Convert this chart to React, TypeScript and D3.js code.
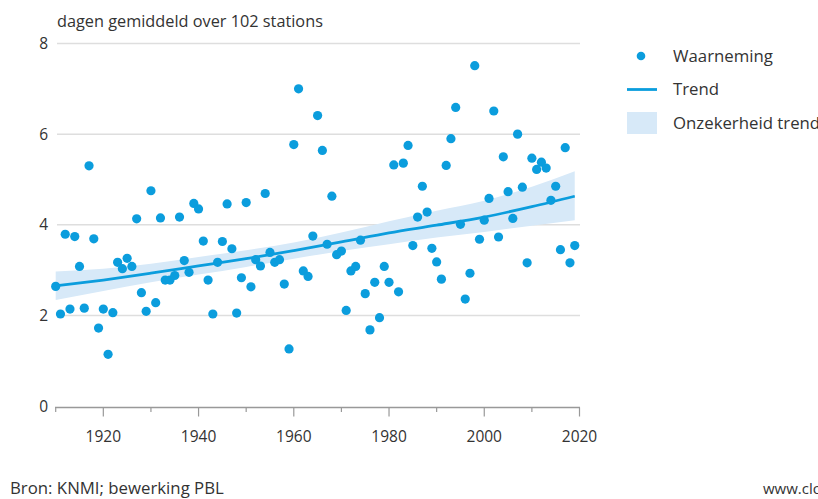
import { useEffect, useRef } from 'react'
import * as d3 from 'd3'

// observed values, one per year 1910..2019
const years = d3.range(1910, 2020)
const observed = [
  2.64, 2.03, 3.79, 2.14, 3.74, 3.08, 2.16, 5.30, 3.69, 1.72,
  2.14, 1.14, 2.06, 3.17, 3.03, 3.26, 3.08, 4.13, 2.50, 2.09,
  4.75, 2.28, 4.15, 2.78, 2.78, 2.88, 4.17, 3.21, 2.95, 4.47,
  4.35, 3.64, 2.78, 2.03, 3.17, 3.63, 4.46, 3.47, 2.05, 2.83,
  4.49, 2.63, 3.23, 3.09, 4.69, 3.39, 3.17, 3.23, 2.69, 1.26,
  5.77, 7.00, 2.98, 2.86, 3.75, 6.41, 5.64, 3.57, 4.63, 3.34,
  3.42, 2.11, 2.98, 3.08, 3.66, 2.48, 1.68, 2.73, 1.95, 3.08,
  2.73, 5.32, 2.52, 5.36, 5.75, 3.54, 4.17, 4.85, 4.28, 3.48,
  3.18, 2.80, 5.31, 5.90, 6.59, 4.01, 2.36, 2.93, 7.51, 3.68,
  4.10, 4.58, 6.51, 3.73, 5.50, 4.73, 4.14, 6.00, 4.83, 3.16,
  5.47, 5.22, 5.38, 5.25, 4.54, 4.85, 3.45, 5.70, 3.16, 3.54,
]

// trend and its uncertainty band, read per decade
const trendYears = [1910, 1920, 1930, 1940, 1950, 1960, 1970, 1980, 1990, 2000, 2010, 2019]
const trend = [2.65, 2.78, 2.93, 3.09, 3.25, 3.43, 3.62, 3.82, 3.99, 4.17, 4.40, 4.63]
const bandLow = [2.34, 2.54, 2.73, 2.90, 3.07, 3.25, 3.42, 3.57, 3.72, 3.84, 3.98, 4.10]
const bandHigh = [2.97, 3.03, 3.14, 3.29, 3.44, 3.61, 3.83, 4.08, 4.31, 4.53, 4.84, 5.18]

const yTicks = [0, 2, 4, 6, 8]
const xMajor = [1920, 1940, 1960, 1980, 2000, 2020]
const xMinor = [1910, 1930, 1950, 1970, 1990, 2010]

const legendItems = ['Waarneming', 'Trend', 'Onzekerheid trend']

const BLUE = '#0b9ddd'
const BAND = '#d7e9f8'
const TEXT = '#333'
const FONT = '"Open Sans", sans-serif'

export default function App() {
  const ref = useRef<SVGSVGElement>(null)

  useEffect(() => {
    const svg = d3.select(ref.current)
    svg.selectAll('*').remove()

    const x = d3.scaleLinear().domain([1910, 2020]).range([55.7, 579.5])
    const y = d3.scaleLinear().domain([0, 8]).range([406, 43.5])

    // title
    svg.append('text')
      .attr('x', 57).attr('y', 27)
      .attr('fill', TEXT).style('font-family', FONT).style('font-size', '16.3px')
      .text('dagen gemiddeld over 102 stations')

    // gridlines
    svg.append('g').selectAll('line').data(yTicks.filter(d => d > 0)).enter().append('line')
      .attr('x1', 57).attr('x2', 580)
      .attr('y1', d => y(d)).attr('y2', d => y(d))
      .attr('stroke', '#dedede').attr('stroke-width', 1.5)

    // y labels
    svg.append('g').selectAll('text').data(yTicks).enter().append('text')
      .attr('x', 48).attr('y', d => y(d) + 5.5)
      .attr('text-anchor', 'end')
      .attr('fill', TEXT).style('font-family', FONT).style('font-size', '15.5px')
      .text(d => d)

    // x axis
    const axisY = y(0) + 1.5
    svg.append('line')
      .attr('x1', 55).attr('x2', 580).attr('y1', axisY).attr('y2', axisY)
      .attr('stroke', '#999').attr('stroke-width', 1.5)
    svg.append('g').selectAll('line').data(xMajor).enter().append('line')
      .attr('x1', d => x(d)).attr('x2', d => x(d))
      .attr('y1', axisY).attr('y2', axisY + 9)
      .attr('stroke', '#999').attr('stroke-width', 1.2)
    svg.append('g').selectAll('line').data(xMinor).enter().append('line')
      .attr('x1', d => x(d)).attr('x2', d => x(d))
      .attr('y1', axisY).attr('y2', axisY + 4.5)
      .attr('stroke', '#999').attr('stroke-width', 1.2)
    svg.append('g').selectAll('text').data(xMajor).enter().append('text')
      .attr('x', d => x(d)).attr('y', 442)
      .attr('text-anchor', 'middle')
      .attr('fill', TEXT).style('font-family', FONT).style('font-size', '15.5px')
      .text(d => d)

    // uncertainty band
    const band = d3.area<number>()
      .x((d, i) => x(trendYears[i]))
      .y0((d, i) => y(bandLow[i]))
      .y1((d, i) => y(bandHigh[i]))
      .curve(d3.curveMonotoneX)
    svg.append('path').datum(trendYears).attr('d', band).attr('fill', BAND)

    // observations
    svg.append('g').selectAll('circle').data(observed).enter().append('circle')
      .attr('cx', (d, i) => x(years[i]))
      .attr('cy', d => y(d))
      .attr('r', 4.6)
      .attr('fill', BLUE)

    // trend line
    const line = d3.line<number>()
      .x((d, i) => x(trendYears[i]))
      .y(d => y(d))
      .curve(d3.curveMonotoneX)
    svg.append('path').datum(trend).attr('d', line)
      .attr('fill', 'none').attr('stroke', BLUE).attr('stroke-width', 2.8)

    // legend
    const lg = svg.append('g')
    lg.append('circle').attr('cx', 641).attr('cy', 56).attr('r', 4.3).attr('fill', BLUE)
    lg.append('line').attr('x1', 627).attr('x2', 657).attr('y1', 89.5).attr('y2', 89.5)
      .attr('stroke', BLUE).attr('stroke-width', 2.8)
    lg.append('rect').attr('x', 627).attr('y', 112).attr('width', 30).attr('height', 22).attr('fill', BAND)
    lg.selectAll('text.item').data(legendItems).enter().append('text')
      .attr('x', 673).attr('y', (d, i) => 61.5 + i * 33.5)
      .attr('fill', TEXT).style('font-family', FONT).style('font-size', '16.8px')
      .text(d => d)

    // footer
    svg.append('text').attr('x', 10).attr('y', 494)
      .attr('fill', TEXT).style('font-family', FONT).style('font-size', '16.8px')
      .text('Bron: KNMI; bewerking PBL')
    svg.append('text').attr('x', 763).attr('y', 494)
      .attr('fill', TEXT).style('font-family', FONT).style('font-size', '15px')
      .text('www.clo.nl')
  }, [])

  return (
    <svg ref={ref} width={818} height={499}
      style={{ position: 'absolute', left: 0, top: 0, background: '#fff' }} />
  )
}
